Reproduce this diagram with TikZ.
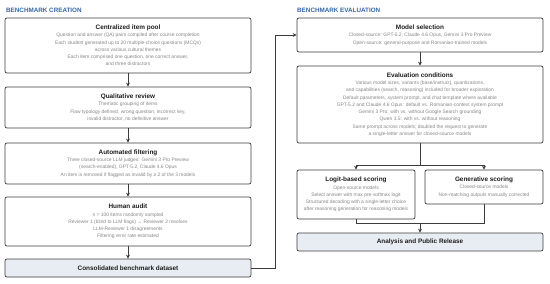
\documentclass[tikz,border=0pt]{standalone}
\usepackage{fontspec}
\setmainfont{Liberation Sans}
\usetikzlibrary{arrows.meta}
\definecolor{headc}{RGB}{52,104,168}
\definecolor{boxc}{RGB}{60,60,60}
\definecolor{bodyc}{RGB}{135,135,135}
\definecolor{titlec}{RGB}{30,30,30}
\definecolor{fillc}{RGB}{232,237,244}
\newcommand{\bt}[1]{{\color{titlec}\bfseries\fontsize{6.4}{8.2}\selectfont #1}}
\tikzset{
  box/.style={draw=boxc, line width=0.7pt, rounded corners=2pt, align=center, inner sep=0pt,
    font=\fontsize{4.9}{7.25}\selectfont, text=bodyc, fill=white},
  fbox/.style={box, fill=fillc},
  head/.style={anchor=west, inner sep=0pt, text=headc, font=\bfseries\fontsize{6.3}{7.5}\selectfont},
  conn/.style={draw=boxc, line width=0.8pt},
  arr/.style={conn, -{Stealth[length=4pt,width=4pt]}}
}
\begin{document}
\begin{tikzpicture}[x=1pt,y=-1pt]
\useasboundingbox (0,0) rectangle (550,284);
\node[head] (h1) at (6,10) {BENCHMARK CREATION};
\node[head] (h2) at (297,10) {BENCHMARK EVALUATION};

\node[box, minimum width=246pt, minimum height=55pt] (b1) at (128,45.5) {\bt{Centralized item pool}\\
Question and answer (QA) pairs compiled after course completion\\
Each student generated up to 20 multiple-choice questions (MCQs)\\
across various cultural themes\\
Each item comprised one question, one correct answer,\\
and three distractors};

\node[box, minimum width=246pt, minimum height=41pt] (b2) at (128,107.5) {\bt{Qualitative review}\\
Thematic grouping of items\\
Flaw typology defined: wrong question, incorrect key,\\
invalid distractor, no definitive answer};

\node[box, minimum width=246pt, minimum height=41pt] (b3) at (128,163.5) {\bt{Automated filtering}\\
Three closed-source LLM judges: Gemini 3 Pro Preview\\
(search-enabled), GPT-5.2, Claude 4.6 Opus\\
An item is removed if flagged as invalid by ≥ 2 of the 3 models};

\node[box, minimum width=246pt, minimum height=49pt] (b4) at (128,221.5) {\bt{Human audit}\\
n = 100 items randomly sampled\\
Reviewer 1 (blind to LLM flags) → Reviewer 2 resolves\\
LLM-Reviewer 1 disagreements\\
Filtering error rate estimated};

\node[fbox, minimum width=246pt, minimum height=18pt] (b5) at (128,268) {\bt{Consolidated benchmark dataset}};

\draw[arr] (b1.south) -- (b2.north);
\draw[arr] (b2.south) -- (b3.north);
\draw[arr] (b3.south) -- (b4.north);
\draw[arr] (b4.south) -- (b5.north);

\node[box, minimum width=246pt, minimum height=34pt] (m1) at (420,35) {\bt{Model selection}\\
Closed-source: GPT-5.2, Claude 4.6 Opus, Gemini 3 Pro Preview\\
Open-source: general-purpose and Romanian-trained models};

\node[box, minimum width=246pt, minimum height=77pt] (m2) at (420,104.5) {\bt{Evaluation conditions}\\
Various model sizes, variants (base/instruct), quantizations,\\
and capabilities (search, reasoning) included for broader exploration\\
Default parameters, system prompt, and chat template where available\\
GPT-5.2 and Claude 4.6 Opus: default vs. Romanian-context system prompt\\
Gemini 3 Pro: with vs. without Google Search grounding\\
Qwen 3.5: with vs. without reasoning\\
Same prompt across models; doubled the request to generate\\
a single-letter answer for closed-source models};

\node[box, minimum width=118pt, minimum height=49pt] (m3) at (356,194.5) {\bt{Logit-based scoring}\\
Open-source models\\
Select answer with max pre-softmax logit\\
Structured decoding with a single-letter choice\\
after reasoning generation for reasoning models};

\node[box, minimum width=118pt, minimum height=34pt] (m4) at (484,187) {\bt{Generative scoring}\\
Closed-source models\\
Non-matching outputs manually corrected};

\node[fbox, minimum width=246pt, minimum height=18pt] (m5) at (420,242) {\bt{Analysis and Public Release}};

\draw[arr] (b5.east) -- ++(24,0) |- (m1.west);
\draw[arr] (m1.south) -- (m2.north);
\draw[conn] (m2.south) -- ++(0,22) coordinate (sp);
\draw[arr] (sp) -| (m3.north);
\draw[arr] (sp) -| (m4.north);
\path (m5.north) ++(0,-9) coordinate (mg);
\draw[conn] (m3.south) |- (mg) -| (m4.south);
\draw[arr] (mg) -- (m5.north);
\end{tikzpicture}
\end{document}
